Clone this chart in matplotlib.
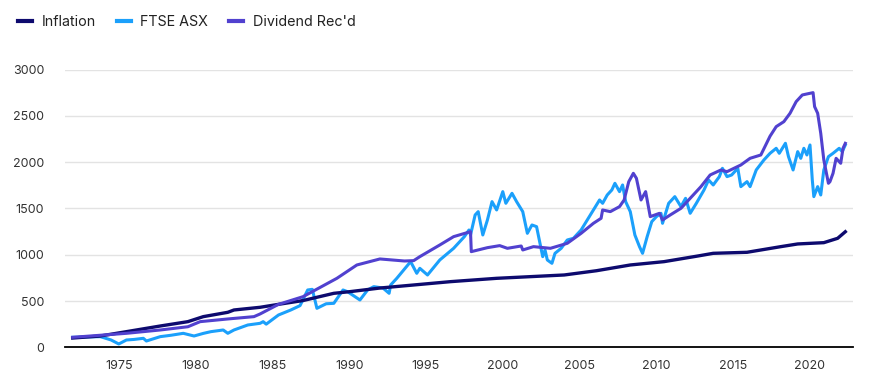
import matplotlib
matplotlib.use("Agg")
import matplotlib.pyplot as plt

plt.rcParams['font.family'] = ['Inter', 'DejaVu Sans']

# inflation index (smooth)
infl_years = [1972.0, 1973.8, 1975.5, 1977.7, 1979.5, 1980.5, 1982.1, 1982.5, 1984.2, 1985.4,
              1987.0, 1989.0, 1990.0, 1992.0, 1994.0, 1996.6, 1999.6, 2004.0, 2006.1, 2008.3,
              2010.5, 2012.7, 2013.7, 2015.9, 2018.1, 2019.2, 2020.9, 2021.8, 2022.3]
infl_vals = [100, 122, 169, 230, 277, 331, 378, 403, 432, 464,
             505, 583, 600, 640, 670, 709, 745, 781, 827, 889,
             925, 986, 1015, 1026, 1087, 1116, 1130, 1177, 1248]

# FTSE ASX index
ftse_years = [1972.0, 1973.0, 1973.8, 1974.5, 1975.0, 1975.5, 1976.0, 1976.6, 1976.8, 1977.7,
              1978.4, 1979.2, 1979.9, 1980.5, 1981.0, 1981.8, 1982.1, 1982.5, 1983.4, 1984.2,
              1984.4, 1984.6, 1985.4, 1986.2, 1986.8, 1987.3, 1987.6, 1987.9, 1988.5, 1989.0,
              1989.6, 1989.9, 1990.7, 1991.2, 1991.6, 1992.2, 1992.6, 1992.7, 1993.1, 1994.0,
              1994.4, 1994.6, 1995.1, 1995.9, 1996.8, 1997.5, 1997.8, 1997.9, 1998.2, 1998.4,
              1998.7, 1999.0, 1999.3, 1999.6, 2000.0, 2000.2, 2000.6, 2000.9, 2001.3, 2001.6,
              2001.9, 2002.2, 2002.6, 2002.75, 2002.9, 2003.2, 2003.4, 2003.8, 2004.2, 2004.6,
              2005.1, 2005.5, 2005.9, 2006.3, 2006.5, 2006.8, 2007.1, 2007.3, 2007.6, 2007.8,
              2008.0, 2008.3, 2008.6, 2008.9, 2009.1, 2009.4, 2009.7, 2010.0, 2010.3, 2010.4,
              2010.8, 2011.2, 2011.6, 2011.9, 2012.2, 2012.6, 2013.1, 2013.4, 2013.7, 2014.1,
              2014.3, 2014.6, 2014.9, 2015.3, 2015.5, 2015.9, 2016.1, 2016.5, 2017.0, 2017.4,
              2017.8, 2018.0, 2018.4, 2018.6, 2018.9, 2019.2, 2019.4, 2019.6, 2019.8, 2020.0,
              2020.15, 2020.25, 2020.5, 2020.7, 2020.9, 2021.2, 2021.5, 2021.9, 2022.1, 2022.3]
ftse_vals = [108, 112, 115, 79, 36, 79, 85, 97, 68, 115,
             130, 151, 122, 150, 169, 187, 151, 187, 241, 259,
             277, 250, 349, 403, 450, 619, 626, 421, 470, 475,
             619, 600, 511, 619, 655, 640, 583, 673, 745, 925,
             799, 853, 781, 943, 1069, 1195, 1267, 1213, 1429, 1465,
             1213, 1375, 1573, 1483, 1681, 1555, 1663, 1573, 1465, 1231,
             1321, 1303, 979, 1051, 943, 907, 1015, 1069, 1159, 1177,
             1267, 1375, 1483, 1591, 1555, 1645, 1699, 1771, 1681, 1753,
             1573, 1465, 1213, 1087, 1015, 1195, 1357, 1411, 1447, 1339,
             1555, 1627, 1519, 1609, 1447, 1555, 1699, 1807, 1753, 1843,
             1933, 1843, 1861, 1933, 1735, 1789, 1735, 1915, 2023, 2095,
             2149, 2095, 2203, 2059, 1915, 2113, 2041, 2149, 2077, 2185,
             1807, 1627, 1735, 1645, 1915, 2059, 2095, 2149, 2113, 2185]

# Dividend Rec'd index
div_years = [1972.0, 1975.5, 1977.7, 1979.5, 1980.3, 1982.1, 1983.8, 1984.2, 1985.4, 1987.0,
             1989.2, 1990.5, 1992.0, 1993.6, 1994.2, 1994.6, 1995.9, 1996.8, 1997.9, 1997.95,
             1999.0, 1999.8, 2000.3, 2001.2, 2001.3, 2002.0, 2003.1, 2004.2, 2005.1, 2005.9,
             2006.4, 2006.5, 2007.0, 2007.6, 2007.9, 2008.2, 2008.5, 2008.7, 2009.0, 2009.3,
             2009.6, 2010.2, 2010.4, 2010.9, 2011.6, 2012.2, 2012.9, 2013.5, 2014.2, 2014.6,
             2015.5, 2016.1, 2016.8, 2017.4, 2017.8, 2018.3, 2018.7, 2019.1, 2019.5, 2019.8,
             2020.2, 2020.3, 2020.5, 2020.7, 2020.9, 2021.2, 2021.3, 2021.5, 2021.7, 2022.0,
             2022.15, 2022.3]
div_vals = [108, 151, 187, 222, 277, 306, 331, 360, 464, 547,
            745, 889, 954, 932, 936, 979, 1105, 1195, 1249, 1033,
            1076, 1098, 1069, 1094, 1051, 1087, 1069, 1123, 1231, 1339,
            1393, 1483, 1465, 1519, 1591, 1788, 1879, 1825, 1591, 1681,
            1411, 1447, 1375, 1429, 1501, 1609, 1735, 1861, 1915, 1897,
            1969, 2041, 2077, 2280, 2383, 2437, 2527, 2653, 2725, 2736,
            2750, 2599, 2527, 2311, 2023, 1771, 1789, 1879, 2041, 1987,
            2149, 2203]

x_ticks = [1975, 1980, 1985, 1990, 1995, 2000, 2005, 2010, 2015, 2020]
y_ticks = [0, 500, 1000, 1500, 2000, 2500, 3000]

fig = plt.figure(figsize=(8.81, 3.92), dpi=100)
ax = fig.add_axes([65 / 881, 1 - 347.3 / 392, (853 - 65) / 881, (347.3 - 69.5) / 392])

ax.plot(infl_years, infl_vals, color='#0d0a6e', lw=2.4, label='Inflation', zorder=3)
ax.plot(ftse_years, ftse_vals, color='#1ba0fb', lw=2.2, label='FTSE ASX', zorder=2)
ax.plot(div_years, div_vals, color='#5141cf', lw=2.2, label="Dividend Rec'd", zorder=4)

ax.set_xlim(1971.5, 2022.8)
ax.set_ylim(0, 3000)
ax.set_xticks(x_ticks)
ax.set_yticks(y_ticks)
ax.grid(axis='y', color='#e3e3e3', lw=1)
ax.set_axisbelow(True)
for s in ['top', 'right', 'left']:
    ax.spines[s].set_visible(False)
ax.spines['bottom'].set_color('black')
ax.spines['bottom'].set_linewidth(1.3)
ax.tick_params(axis='both', length=0, labelsize=9, labelcolor='#333333')
ax.tick_params(axis='x', pad=9)
ax.tick_params(axis='y', pad=15)

handles, labels = ax.get_legend_handles_labels()
fig.legend(handles, labels,
           loc='upper left', bbox_to_anchor=(0.006, 0.995), ncol=3, frameon=False,
           fontsize=10.3, handlelength=1.0, handletextpad=0.65, columnspacing=1.45,
           labelcolor='#222222')
for ln in fig.legends[0].get_lines():
    ln.set_linewidth(3)

fig.savefig('out.png', dpi=100)
